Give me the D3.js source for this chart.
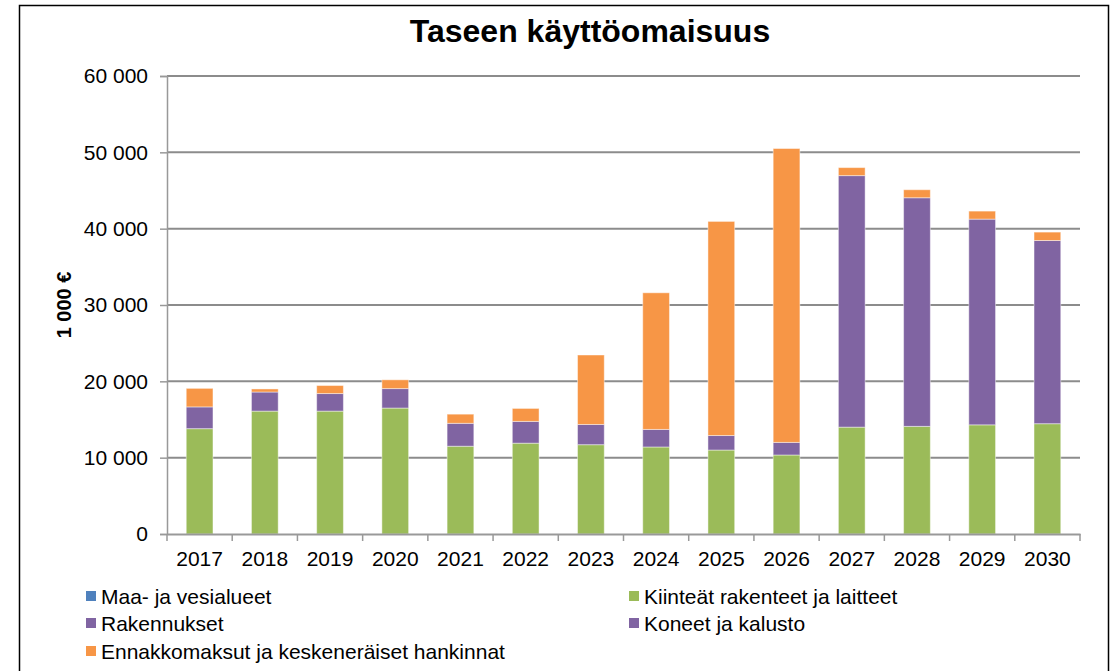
<!DOCTYPE html>
<html>
<head>
<meta charset="utf-8">
<script src="https://cdn.jsdelivr.net/npm/d3@7"></script>
<style>
  body { margin: 0; background: #fff; }
  text { font-family: "Liberation Sans", Arial, sans-serif; }
</style>
</head>
<body>
<div id="chart"></div>
<script>
// Chart data
var years = ["2017", "2018", "2019", "2020", "2021", "2022", "2023", "2024", "2025", "2026", "2027", "2028", "2029", "2030"];
var maaJaVesialueet = [0, 0, 0, 0, 0, 0, 0, 0, 0, 0, 0, 0, 0, 0];
var kiinteatRakenteet = [13800, 16100, 16100, 16500, 11500, 11900, 11700, 11400, 11000, 10350, 14000, 14100, 14300, 14450];
var rakennukset = [2850, 2500, 2300, 2550, 3000, 2850, 2650, 2300, 1900, 1650, 32950, 29950, 26950, 24000];
var koneetJaKalusto = [0, 0, 0, 0, 0, 0, 0, 0, 0, 0, 0, 0, 0, 0];
var ennakkomaksut = [2430, 400, 1050, 1150, 1200, 1700, 9100, 17900, 28050, 38500, 1050, 1050, 1050, 1100];
var yTicks = [0, 10000, 20000, 30000, 40000, 50000, 60000];

var seriesNames = ["Maa- ja vesialueet", "Kiinteät rakenteet ja laitteet", "Rakennukset", "Koneet ja kalusto", "Ennakkomaksut ja keskeneräiset hankinnat"];
var seriesValues = [maaJaVesialueet, kiinteatRakenteet, rakennukset, koneetJaKalusto, ennakkomaksut];
var colors = ["#4f81bd", "#9bbb59", "#8064a2", "#8064a2", "#f79646"];

// SVG area
var svgWidth = 1117;
var svgHeight = 671;

var margin = { top: 76, left: 167, right: 37, bottom: 137 };
var chartWidth = svgWidth - margin.left - margin.right;   // 913
var chartHeight = svgHeight - margin.top - margin.bottom; // 458

var svg = d3.select("#chart")
  .append("svg")
  .attr("width", svgWidth)
  .attr("height", svgHeight);

// outer frame
svg.append("rect")
  .attr("x", 19.5)
  .attr("y", 5.5)
  .attr("width", 1089)
  .attr("height", 700)
  .attr("fill", "none")
  .attr("stroke", "#000")
  .attr("stroke-width", 1.5);

// title
svg.append("text")
  .attr("x", 590)
  .attr("y", 42)
  .attr("text-anchor", "middle")
  .style("font-size", "32px")
  .style("font-weight", "bold")
  .text("Taseen käyttöomaisuus");

var chartGroup = svg.append("g")
  .attr("transform", `translate(${margin.left}, ${margin.top})`);

// Scales
var xScale = d3.scaleBand()
  .domain(years)
  .range([0, chartWidth])
  .paddingInner(0.59)
  .paddingOuter(0.295);

var yScale = d3.scaleLinear()
  .domain([0, 60000])
  .range([chartHeight, 0]);

// Gridlines
chartGroup.append("g")
  .selectAll("line")
  .data(yTicks.filter(d => d > 0))
  .enter()
  .append("line")
  .attr("x1", 0)
  .attr("x2", chartWidth)
  .attr("y1", d => yScale(d))
  .attr("y2", d => yScale(d))
  .attr("stroke", "#8c8c8c")
  .attr("stroke-width", 2);

// Stacked data
var table = years.map(function(y, i) {
  var row = { year: y };
  seriesNames.forEach(function(name, k) { row[name] = seriesValues[k][i]; });
  return row;
});
var stacked = d3.stack().keys(seriesNames)(table);

chartGroup.selectAll(".series")
  .data(stacked)
  .enter()
  .append("g")
  .attr("fill", (d, i) => colors[i])
  .selectAll("rect")
  .data(d => d)
  .enter()
  .append("rect")
  .attr("x", d => xScale(d.data.year))
  .attr("width", xScale.bandwidth())
  .attr("y", d => yScale(d[1]))
  .attr("height", d => yScale(d[0]) - yScale(d[1]))
  .attr("stroke", "rgba(255,255,255,0.45)")
  .attr("stroke-width", d => (d[1] - d[0]) > 0 ? 1 : 0);

// Y axis
var leftAxis = d3.axisLeft(yScale)
  .tickValues(yTicks)
  .tickSize(7)
  .tickPadding(12)
  .tickFormat(d => d3.format(",")(d).replace(/,/g, " "));

var yAxisG = chartGroup.append("g").call(leftAxis);
yAxisG.select(".domain").attr("stroke", "#999").attr("stroke-width", 1.5);
yAxisG.selectAll(".tick line").attr("stroke", "#999").attr("stroke-width", 1.5);
yAxisG.selectAll("text")
  .style("font-size", "21px")
  .style("font-family", "Liberation Sans, Arial, sans-serif")
  .attr("fill", "#000");

// X axis
var bottomAxis = d3.axisBottom(xScale).tickSize(0).tickPadding(17);
var xAxisG = chartGroup.append("g")
  .attr("transform", `translate(0, ${chartHeight})`)
  .call(bottomAxis);
xAxisG.select(".domain").attr("stroke", "#999").attr("stroke-width", 2);
xAxisG.selectAll("text")
  .style("font-size", "21px")
  .style("font-family", "Liberation Sans, Arial, sans-serif")
  .attr("fill", "#000");

// category separator ticks
var step = xScale.step();
xAxisG.selectAll(".sep")
  .data(d3.range(years.length + 1))
  .enter()
  .append("line")
  .attr("x1", d => d * step)
  .attr("x2", d => d * step)
  .attr("y1", 0)
  .attr("y2", 7)
  .attr("stroke", "#999")
  .attr("stroke-width", 1.5);

// Y axis title
svg.append("text")
  .attr("transform", "translate(71, 305) rotate(-90)")
  .attr("text-anchor", "middle")
  .style("font-size", "20px")
  .style("font-weight", "bold")
  .text("1 000 €");

// Legend
var legendPos = [[86, 596], [629, 596], [86, 623], [629, 623], [86, 651]];
var legend = svg.selectAll(".legend")
  .data(seriesNames)
  .enter()
  .append("g")
  .attr("transform", (d, i) => `translate(${legendPos[i][0]}, ${legendPos[i][1]})`);

legend.append("rect")
  .attr("x", 0)
  .attr("y", -5)
  .attr("width", 10)
  .attr("height", 10)
  .attr("fill", (d, i) => colors[i]);

legend.append("text")
  .attr("x", 15)
  .attr("y", 7.5)
  .style("font-size", "21px")
  .text(d => d);
</script>
</body>
</html>
